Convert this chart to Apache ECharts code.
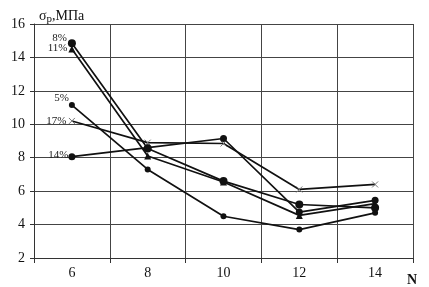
<!DOCTYPE html>
<html><head><meta charset="utf-8">
<script src="https://cdn.jsdelivr.net/npm/echarts@6/dist/echarts.min.js"></script>
<style>html,body{margin:0;padding:0;background:#fff}#c{width:429px;height:287px}</style>
</head><body><div id="c"></div>
<script>
const xValues = [6, 8, 10, 12, 14];
const seriesNames = ['8%', '11%', '5%', '17%', '14%'];
const s8 = [14.85, 8.55, 6.6, 5.2, 5.0];
const s11 = [14.5, 8.1, 6.55, 4.55, 5.25];
const s5 = [11.15, 7.3, 4.5, 3.7, 4.7];
const s17 = [10.2, 8.9, 8.85, 6.1, 6.4];
const s14 = [8.06, 8.6, 9.15, 4.75, 5.45];
const xTickLabels = [6, 8, 10, 12, 14];
const yTickLabels = [2, 4, 6, 8, 10, 12, 14, 16];

const serif = '"Liberation Serif", "DejaVu Serif", serif';
const symbols = ['circle', 'triangle', 'circle', 'path://M0,0L10,10M10,0L0,10', 'circle'];
const sizes = [8, 7, 6, 6, 7];
const offsets = [[4, -5], [4, -1], [5, -7], [3, 0], [5, -2]];
const values = [s8, s11, s5, s17, s14];

const series = values.map((vals, i) => ({
  name: seriesNames[i],
  type: 'line',
  data: vals.map((v, j) => {
    const d = { value: [xValues[j], v] };
    if (j === 0) d.label = { show: true, position: 'left', offset: offsets[i], formatter: seriesNames[i], color: '#222', fontFamily: serif, fontSize: 11 };
    return d;
  }),
  symbol: symbols[i],
  symbolSize: sizes[i],
  showSymbol: true,
  lineStyle: { color: '#111', width: 1.7 },
  itemStyle: i === 3 ? { color: 'transparent', borderColor: '#777', borderWidth: 1 } : { color: '#111', borderColor: '#111', borderWidth: 0 },
  z: 3
}));

const chart = echarts.init(document.getElementById('c'));
chart.setOption({
  animation: false,
  backgroundColor: '#fff',
  grid: { left: 34, right: 16, top: 24, bottom: 29 },
  title: [
    { text: 'σ{sub|р},МПа', left: 34, top: 3,
      textStyle: { fontFamily: serif, fontSize: 14, fontWeight: 'normal', color: '#111',
        rich: { sub: { fontFamily: serif, fontSize: 11, verticalAlign: 'bottom', padding: [6, 0, 0, 0], color: '#111' } } } },
    { text: 'N', left: 402, top: 268, textStyle: { fontFamily: serif, fontSize: 14, fontWeight: 'bold', color: '#111' } }
  ],
  xAxis: {
    type: 'value', min: 5, max: 15, interval: 1,
    axisLine: { show: true, lineStyle: { color: '#333', width: 1 } },
    axisTick: { show: true, length: 5, customValues: [5, 7, 9, 11, 13, 15], lineStyle: { color: '#333' } },
    axisLabel: { customValues: xTickLabels, fontFamily: serif, fontSize: 14, color: '#111', margin: 8 },
    splitLine: { show: true, lineStyle: { color: '#444', width: 1 } }
  },
  yAxis: {
    type: 'value', min: 2, max: 16, interval: 2,
    axisLine: { show: true, lineStyle: { color: '#333', width: 1 } },
    axisTick: { show: true, length: 4, lineStyle: { color: '#333' } },
    axisLabel: { fontFamily: serif, fontSize: 14, color: '#111', margin: 9,
      formatter: v => yTickLabels.includes(v) ? String(v) : '' },
    splitLine: { show: true, lineStyle: { color: '#444', width: 1 } }
  },
  series: series
});
</script></body></html>
